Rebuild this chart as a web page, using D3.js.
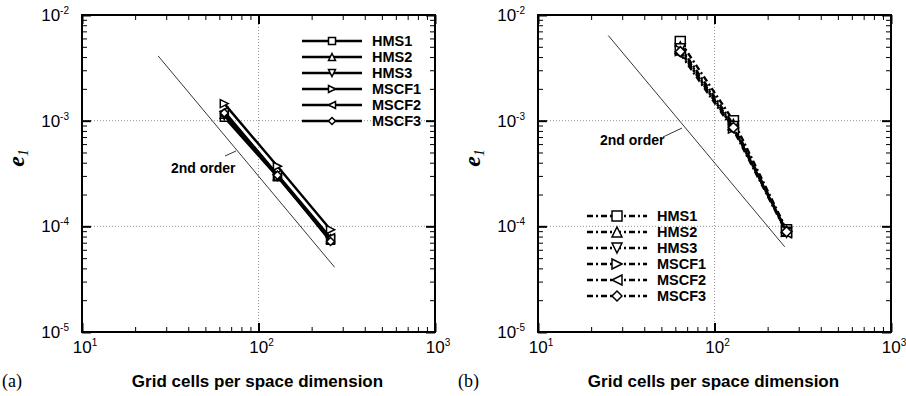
<!DOCTYPE html>
<html lang="en">
<head>
<meta charset="utf-8">
<title>e1 convergence</title>
<script src="https://cdn.jsdelivr.net/npm/d3@7"></script>
<style>
  body { margin: 0; background: #fff; }
  text { font-family: "Liberation Sans", Arial, sans-serif; }
</style>
</head>
<body>
<script>
// grid sizes and series values
var cells = [64, 128, 256];
var seriesNames = ["HMS1", "HMS2", "HMS3", "MSCF1", "MSCF2", "MSCF3"];
var markerShapes = ["square", "up", "down", "right", "left", "diamond"];

var leftHMS1  = [1.08e-3, 2.95e-4, 7.4e-5];
var leftHMS2  = [1.15e-3, 3.00e-4, 7.6e-5];
var leftHMS3  = [1.12e-3, 2.98e-4, 7.5e-5];
var leftMSCF1 = [1.45e-3, 3.70e-4, 9.3e-5];
var leftMSCF2 = [1.22e-3, 3.10e-4, 7.8e-5];
var leftMSCF3 = [1.18e-3, 3.05e-4, 7.2e-5];

var rightHMS1  = [5.6e-3, 1.00e-3, 9.3e-5];
var rightHMS2  = [5.0e-3, 9.2e-4, 9.0e-5];
var rightHMS3  = [4.8e-3, 8.8e-4, 8.8e-5];
var rightMSCF1 = [4.6e-3, 8.5e-4, 9.0e-5];
var rightMSCF2 = [4.3e-3, 8.2e-4, 8.7e-5];
var rightMSCF3 = [4.5e-3, 8.6e-4, 8.9e-5];

// reference slope lines: [x0, x1], [y0, y1]
var leftOrderX = [27, 270],  leftOrderY = [4.1e-3, 4.1e-5];
var rightOrderX = [25, 250], rightOrderY = [6.4e-3, 6.4e-5];

var xDomain = [10, 1000];
var yDomain = [1e-5, 1e-2];
var xMajor = [1, 2, 3];      // exponents
var yMajor = [-5, -4, -3, -2];

var W = 906, H = 396;
var svg = d3.select("body").append("svg").attr("width", W).attr("height", H);

function markerPath(shape, s) {
  var h = s / 2;
  if (shape == "square") return "M" + (-h) + "," + (-h) + "h" + s + "v" + s + "h" + (-s) + "Z";
  if (shape == "up") return "M0," + (-h) + "L" + h + "," + h + "L" + (-h) + "," + h + "Z";
  if (shape == "down") return "M0," + h + "L" + h + "," + (-h) + "L" + (-h) + "," + (-h) + "Z";
  if (shape == "right") return "M" + h + ",0L" + (-h) + "," + (-h) + "L" + (-h) + "," + h + "Z";
  if (shape == "left") return "M" + (-h) + ",0L" + h + "," + (-h) + "L" + h + "," + h + "Z";
  return "M0," + (-h) + "L" + h + ",0L0," + h + "L" + (-h) + ",0Z";
}

function drawPanel(opt) {
  var g = svg.append("g").attr("transform", "translate(" + opt.left + ",15)");
  var pw = 353, ph = 317;
  var x = d3.scaleLog().domain(xDomain).range([0, pw]);
  var y = d3.scaleLog().domain(yDomain).range([ph, 0]);

  // grid at interior decades
  g.selectAll(".vgrid").data([100]).enter().append("line")
    .attr("x1", function(d) { return x(d); }).attr("x2", function(d) { return x(d); })
    .attr("y1", 0).attr("y2", ph)
    .attr("stroke", "#777").attr("stroke-width", 0.8).attr("stroke-dasharray", "1,2");
  g.selectAll(".hgrid").data([1e-3, 1e-4]).enter().append("line")
    .attr("y1", function(d) { return y(d); }).attr("y2", function(d) { return y(d); })
    .attr("x1", 0).attr("x2", pw)
    .attr("stroke", "#777").attr("stroke-width", 0.8).attr("stroke-dasharray", "1,2");

  // ticks on all four sides, pointing inward
  var xt = x.ticks(), yt = y.ticks();
  function isMajor(v) { return Math.abs(Math.log10(v) - Math.round(Math.log10(v))) < 1e-6; }
  var axes = [
    [d3.axisBottom(x), "translate(0," + ph + ")", xt],
    [d3.axisTop(x), "translate(0,0)", xt],
    [d3.axisLeft(y), "translate(0,0)", yt],
    [d3.axisRight(y), "translate(" + pw + ",0)", yt]
  ];
  axes.forEach(function(a) {
    var ax = g.append("g").attr("transform", a[1])
      .call(a[0].tickValues(a[2]).tickSize(-5).tickFormat(""));
    ax.select(".domain").remove();
    ax.selectAll(".tick line").attr("stroke", "#000").attr("stroke-width", 1)
      .each(function(d) {
        if (isMajor(d)) {
          var l = d3.select(this);
          if (l.attr("x2") != null && +l.attr("x2") != 0) l.attr("x2", +l.attr("x2") * 1.8);
          if (l.attr("y2") != null && +l.attr("y2") != 0) l.attr("y2", +l.attr("y2") * 1.8);
          l.attr("stroke-width", 2);
        }
      });
  });

  // frame
  g.append("rect").attr("width", pw).attr("height", ph)
    .attr("fill", "none").attr("stroke", "#000").attr("stroke-width", 2);

  // tick labels
  xMajor.forEach(function(e) {
    var t = g.append("text").attr("x", x(Math.pow(10, e)) + 3).attr("y", ph + 21)
      .attr("text-anchor", "middle").attr("font-size", 17);
    t.append("tspan").text("10");
    t.append("tspan").attr("dy", -7).attr("font-size", 10).text(e);
  });
  yMajor.forEach(function(e) {
    var t = g.append("text").attr("x", -13).attr("y", y(Math.pow(10, e)) + 6)
      .attr("text-anchor", "end").attr("font-size", 17);
    t.append("tspan").text("10");
    t.append("tspan").attr("dy", -7).attr("font-size", 10).text(e);
  });

  // axis titles
  svg.append("text").attr("x", opt.left + pw / 2 - 1).attr("y", 387)
    .attr("text-anchor", "middle").attr("font-size", 17).attr("font-weight", "bold")
    .text("Grid cells per space dimension");
  svg.append("text").attr("x", opt.left - 80).attr("y", 387)
    .attr("font-size", 18)
    .style("font-family", "'Liberation Serif', serif").text(opt.tag);
  var yl = svg.append("text")
    .attr("transform", "translate(" + (opt.left - 58) + ",158) rotate(-90)")
    .attr("text-anchor", "middle").style("font-family", "'Liberation Serif', serif")
    .attr("font-style", "italic").attr("font-weight", "bold").attr("font-size", 24);
  yl.append("tspan").text("e");
  yl.append("tspan").attr("dy", 4).attr("font-size", 14).attr("font-weight", "normal").text("1");

  // 2nd order reference line
  g.append("line")
    .attr("x1", x(opt.orderX[0])).attr("y1", y(opt.orderY[0]))
    .attr("x2", x(opt.orderX[1])).attr("y2", y(opt.orderY[1]))
    .attr("stroke", "#000").attr("stroke-width", 0.8);
  g.append("line")
    .attr("x1", opt.lead[0]).attr("y1", opt.lead[1])
    .attr("x2", opt.lead[2]).attr("y2", opt.lead[3])
    .attr("stroke", "#000").attr("stroke-width", 0.8);
  g.append("text").attr("x", opt.orderLabel[0]).attr("y", opt.orderLabel[1])
    .attr("font-size", 14).attr("font-weight", "bold").text("2nd order");

  // series
  var line = d3.line().x(function(d) { return x(d[0]); }).y(function(d) { return y(d[1]); });
  opt.series.forEach(function(vals, i) {
    var pts = cells.map(function(c, j) { return [c, vals[j]]; });
    g.append("path").attr("d", line(pts)).attr("fill", "none")
      .attr("stroke", "#000").attr("stroke-width", opt.lw)
      .attr("stroke-dasharray", opt.dash);
    g.selectAll(null).data(pts).enter().append("path")
      .attr("transform", function(d) { return "translate(" + x(d[0]) + "," + y(d[1]) + ")"; })
      .attr("d", markerPath(markerShapes[i], opt.ms))
      .attr("fill", "#fff").attr("stroke", "#000").attr("stroke-width", 1.5);
  });

  // legend
  var lg = g.append("g").attr("transform", "translate(" + opt.legend[0] + "," + opt.legend[1] + ")");
  seriesNames.forEach(function(name, i) {
    var yy = i * 16;
    lg.append("line").attr("x1", 0).attr("x2", 60).attr("y1", yy).attr("y2", yy)
      .attr("stroke", "#000").attr("stroke-width", opt.lw).attr("stroke-dasharray", opt.dash);
    lg.append("path").attr("transform", "translate(30," + yy + ")")
      .attr("d", markerPath(markerShapes[i], opt.lms))
      .attr("fill", "#fff").attr("stroke", "#000").attr("stroke-width", 1.5);
    lg.append("text").attr("x", 70).attr("y", yy + 5)
      .attr("font-size", 14.5).attr("font-weight", "bold").text(name);
  });
}

drawPanel({
  left: 82, tag: "(a)",
  series: [leftHMS1, leftHMS2, leftHMS3, leftMSCF1, leftMSCF2, leftMSCF3],
  orderX: leftOrderX, orderY: leftOrderY,
  lead: [143, 141, 154, 136], orderLabel: [89, 158],
  lw: 2.4, dash: null, ms: 8, lms: 7,
  legend: [220, 26]
});
drawPanel({
  left: 538, tag: "(b)",
  series: [rightHMS1, rightHMS2, rightHMS3, rightMSCF1, rightMSCF2, rightMSCF3],
  orderX: rightOrderX, orderY: rightOrderY,
  lead: [125, 122, 144, 113], orderLabel: [62, 130],
  lw: 2.4, dash: "6,3,2,3", ms: 10, lms: 10,
  legend: [49, 201]
});
</script>
</body>
</html>
